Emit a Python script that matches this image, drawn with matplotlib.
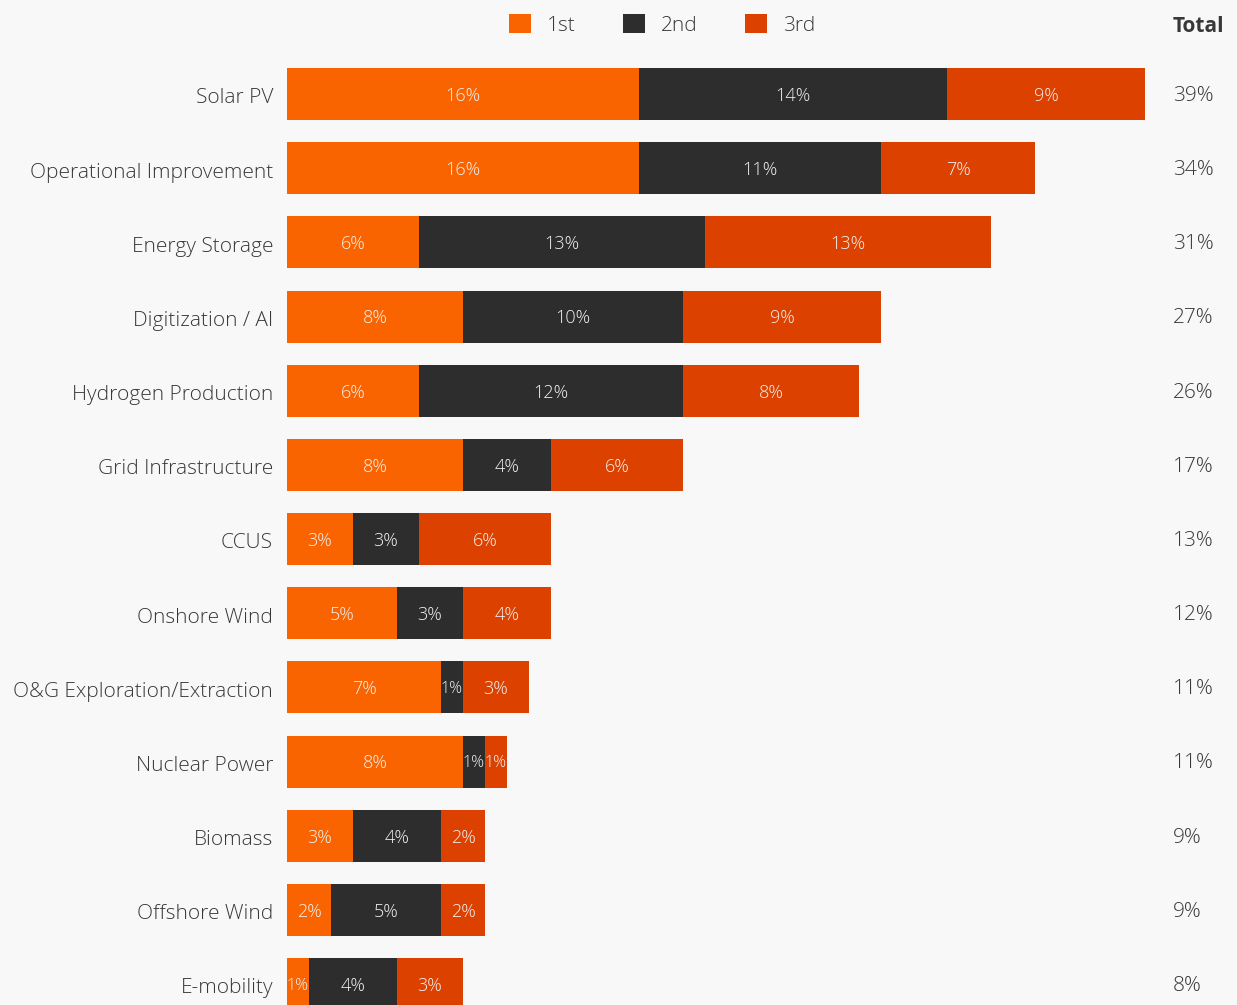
import matplotlib.pyplot as plt
from matplotlib.patches import Patch

plt.rcParams['font.family'] = ['Open Sans', 'DejaVu Sans']

categories = ['Solar PV', 'Operational Improvement', 'Energy Storage', 'Digitization / AI',
              'Hydrogen Production', 'Grid Infrastructure', 'CCUS', 'Onshore Wind',
              'O&G Exploration/Extraction', 'Nuclear Power', 'Biomass', 'Offshore Wind',
              'E-mobility']
first = [16, 16, 6, 8, 6, 8, 3, 5, 7, 8, 3, 2, 1]
second = [14, 11, 13, 10, 12, 4, 3, 3, 1, 1, 4, 5, 4]
third = [9, 7, 13, 9, 8, 6, 6, 4, 3, 1, 2, 2, 3]
totals = [39, 34, 31, 27, 26, 17, 13, 12, 11, 11, 9, 9, 8]

series = ['1st', '2nd', '3rd']
colors = ['#fa6400', '#2d2d2d', '#dc4100']
bg = '#f8f8f8'
text_col = '#383838'
wt = 300

W, H = 1237, 1005
fig = plt.figure(figsize=(W / 100, H / 100), dpi=100, facecolor=bg)

# axes placed in pixel terms: bars start at x=287, 39% ends at x=1145
ax_left, ax_right = 287, 1145
ax_top, ax_bottom = 57, 1005
ax = fig.add_axes([ax_left / W, 1 - ax_bottom / H, (ax_right - ax_left) / W, (ax_bottom - ax_top) / H])
ax.set_facecolor(bg)

pitch = 74.17
ax.set_xlim(0, 39)
ax.set_ylim(-0.5 + (ax_bottom - ax_top) / pitch, -0.5)
dy = 0.025  # nudge text a little below bar centre

y = list(range(len(categories)))
left = [0] * len(categories)
for vals, col in zip([first, second, third], colors):
    ax.barh(y, vals, left=left, height=0.70, color=col, linewidth=0)
    for i, v in enumerate(vals):
        # narrow 1% segments get a slightly smaller label so neighbours don't collide
        fs = 11.5 if v == 1 else 13
        ax.text(left[i] + v / 2, i + dy, f'{v}%', ha='center', va='center',
                fontsize=fs, color='#f2f2f2', fontweight=wt)
    left = [l + v for l, v in zip(left, vals)]

for s in ax.spines.values():
    s.set_visible(False)
ax.set_xticks([])
ax.set_yticks([i + dy for i in y])
ax.set_yticklabels(categories, fontsize=15, color=text_col, fontweight=wt)
ax.tick_params(axis='y', length=0, pad=10)

# totals column, x in figure coords, y in data coords
tot_trans = ax.get_yaxis_transform().__class__(fig.transFigure, ax.transData)
for i, t in enumerate(totals):
    ax.text(1173 / W, i + dy, f'{t}%', transform=tot_trans,
            ha='left', va='center', fontsize=15, color=text_col, fontweight=wt)
fig.text(1173 / W, 1 - 27 / H, 'Total', ha='left', va='center', fontsize=15,
         fontweight='bold', color=text_col)

handles = [Patch(facecolor=c, edgecolor='none', label=s) for s, c in zip(series, colors)]
leg = fig.legend(handles=handles, loc='center', bbox_to_anchor=(662 / W, 1 - 25 / H), ncol=3,
                 frameon=False, fontsize=15, handlelength=1.05, handleheight=1.05,
                 handletextpad=0.75, columnspacing=2.3)
for t in leg.get_texts():
    t.set_color(text_col)
    t.set_fontweight(wt)

fig.savefig('out.png', dpi=100, facecolor=bg)
